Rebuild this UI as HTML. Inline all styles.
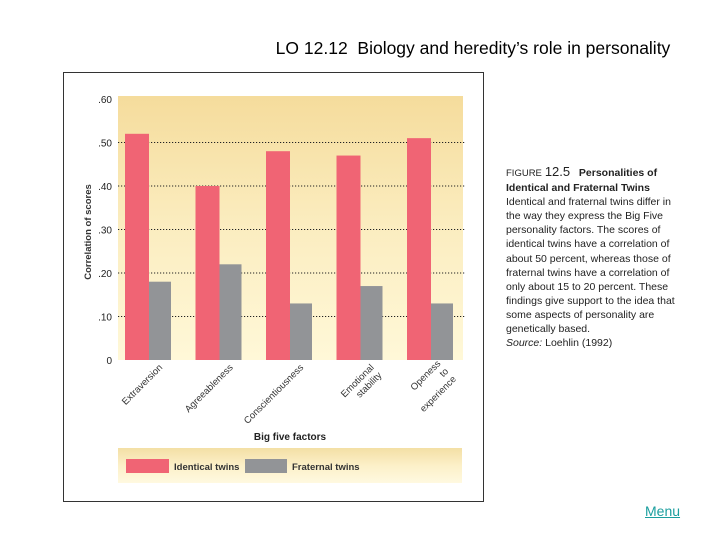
<!DOCTYPE html>
<html><head><meta charset="utf-8"><style>
body{margin:0;width:720px;height:540px;background:#fff;position:relative;overflow:hidden;font-family:"Liberation Sans",sans-serif}
#title{position:absolute;left:0;width:720px;top:38px;text-align:center;font-size:17.5px;color:#000;padding-left:226px;box-sizing:border-box;white-space:nowrap}
#cap{position:absolute;left:506px;top:165px;font-size:10.5px;line-height:14.1px;color:#222;white-space:nowrap}
#menu{position:absolute;left:645px;top:503px;font-size:14px;color:#1a9e9e;text-decoration:underline}
</style></head><body>
<div id="title">LO 12.12&nbsp; Biology and heredity’s role in personality</div>
<svg width="720" height="540" style="position:absolute;left:0;top:0">
<defs>
<linearGradient id="bg" x1="0" y1="0" x2="0" y2="1"><stop offset="0" stop-color="#f5dc9c"/><stop offset="0.5" stop-color="#fbedc0"/><stop offset="1" stop-color="#fff8d8"/></linearGradient>
<linearGradient id="lg" x1="0" y1="0" x2="0" y2="1"><stop offset="0" stop-color="#f3dfa5"/><stop offset="0.5" stop-color="#fcf0c8"/><stop offset="1" stop-color="#fff9e0"/></linearGradient>
</defs>
<rect x="63.5" y="72.5" width="420" height="429" fill="#fff" stroke="#333"/>
<rect x="118" y="96" width="345" height="264" fill="url(#bg)"/>
<g id="grid"></g><g id="bars"></g><g id="ticks"></g><g id="xl"></g>
<text transform="translate(91,232) rotate(-90)" text-anchor="middle" font-size="9.5" fill="#333" font-weight="bold">Correlation of scores</text>
<text x="290" y="440" text-anchor="middle" font-size="10" font-weight="bold" fill="#222">Big five factors</text>
<rect x="118" y="448" width="344" height="35" fill="url(#lg)"/>
<rect x="126" y="459" width="43" height="14" fill="#f06474"/>
<text x="174" y="470" font-size="9.5" font-weight="bold" fill="#333">Identical twins</text>
<rect x="245" y="459" width="42" height="14" fill="#929497"/>
<text x="292" y="470" font-size="9.5" font-weight="bold" fill="#333">Fraternal twins</text>
</svg>
<div id="cap"><span style="font-size:9.5px">FIGURE</span> <span style="font-size:13px">12.5</span>&nbsp;&nbsp;&nbsp;<b>Personalities of</b><br><b>Identical and Fraternal Twins</b><br>Identical and fraternal twins differ in<br>the way they express the Big Five<br>personality factors. The scores of<br>identical twins have a correlation of<br>about 50 percent, whereas those of<br>fraternal twins have a correlation of<br>only about 15 to 20 percent. These<br>findings give support to the idea that<br>some aspects of personality are<br>genetically based.<br><i>Source:</i> Loehlin (1992)</div>
<a id="menu">Menu</a>
<script>
const categories=[["Extraversion"],["Agreeableness"],["Conscientiousness"],["Emotional","stability"],["Openess","to","experience"]];
const identical=[0.52,0.40,0.48,0.47,0.51];
const fraternal=[0.18,0.22,0.13,0.17,0.13];
const yTicks=[0,0.1,0.2,0.3,0.4,0.5,0.6];
const yTickLabels=["0",".10",".20",".30",".40",".50",".60"];
const NS="http://www.w3.org/2000/svg";
const y=v=>360-v*435;
const x=i=>125+i*70.5;
function mk(t,a,p){const e=document.createElementNS(NS,t);for(const k in a)e.setAttribute(k,a[k]);p.appendChild(e);return e;}
const G=document.getElementById('grid'),B=document.getElementById('bars'),T=document.getElementById('ticks'),X=document.getElementById('xl');
yTicks.forEach((v,i)=>{
 if(v>0&&v<0.6){const l=mk('line',{x1:118,x2:466,y1:y(v),y2:y(v),stroke:'#222','stroke-dasharray':'1.2 1.8','stroke-width':1},G);
 
 }
 const t=mk('text',{x:112,y:y(v)+4,'text-anchor':'end','font-size':10,fill:'#222'},T);t.textContent=yTickLabels[i];
 
 
});
categories.forEach((c,i)=>{
 const r=mk('rect',{x:x(i),y:y(identical[i]),width:24,height:identical[i]*435,fill:'#f06474'},B);
 
 
 const g=mk('rect',{x:x(i)+24,y:y(fraternal[i]),width:22,height:fraternal[i]*435,fill:'#929497'},B);
 
 
 const t=mk('text',{transform:`translate(${x(i)+38},368) rotate(-45)`,'text-anchor':'end','font-size':9.5,fill:'#333'},X);
 
 
 c.forEach((s,j)=>{const ts=mk('tspan',{x:0,y:j*11 - (c.length-1)*5.5 + (c.length>1?5.5:0)},t);ts.textContent=s;});
});
</script>
</body></html>
